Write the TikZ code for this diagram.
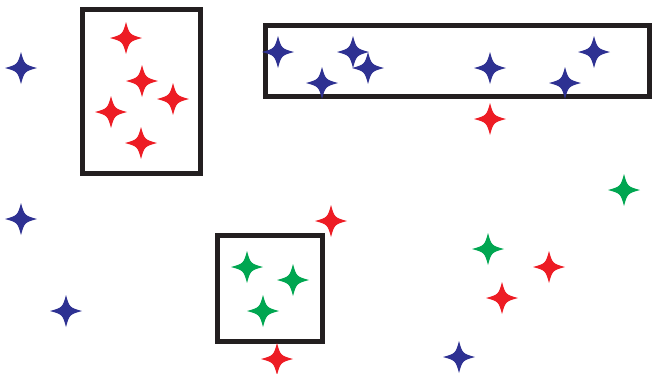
\documentclass[tikz,border=0pt]{standalone}
\definecolor{sblue}{HTML}{2E3192}
\definecolor{sred}{HTML}{ED1C24}
\definecolor{sgreen}{HTML}{00A651}
\definecolor{boxk}{HTML}{231F20}
\tikzset{
  sparkle/.pic={
    \fill (16,0) .. controls (3.5,3.5) .. (0,16) .. controls (-3.5,3.5) .. (-16,0)
      .. controls (-3.5,-3.5) .. (0,-16) .. controls (3.5,-3.5) .. cycle;
  },
  grp/.style={draw=boxk, line width=5pt},
}
\begin{document}
\begin{tikzpicture}[x=1pt,y=-1pt]
\useasboundingbox (0,0) rectangle (652,373);
\draw[grp] (82,9.5) rectangle (200,173);
\draw[grp] (265,25.5) rectangle (649.5,96);
\draw[grp] (217,235.5) rectangle (322.5,341);
% blue
\foreach \p in {(21,68),(21,219),(66,311),(459,357),(278,52),(322,83),(353,52),(368,68),(490,68),(565,83),(594,52)}
  \pic[fill=sblue] at \p {sparkle};
% red
\foreach \p in {(126,38),(142,81),(173,99),(111,112),(141,143),(490,119),(331,221),(549,267),(502,298),(277,359)}
  \pic[fill=sred] at \p {sparkle};
% green
\foreach \p in {(247,267),(293,280),(263,311),(488,249),(624,190)}
  \pic[fill=sgreen] at \p {sparkle};
\end{tikzpicture}
\end{document}
